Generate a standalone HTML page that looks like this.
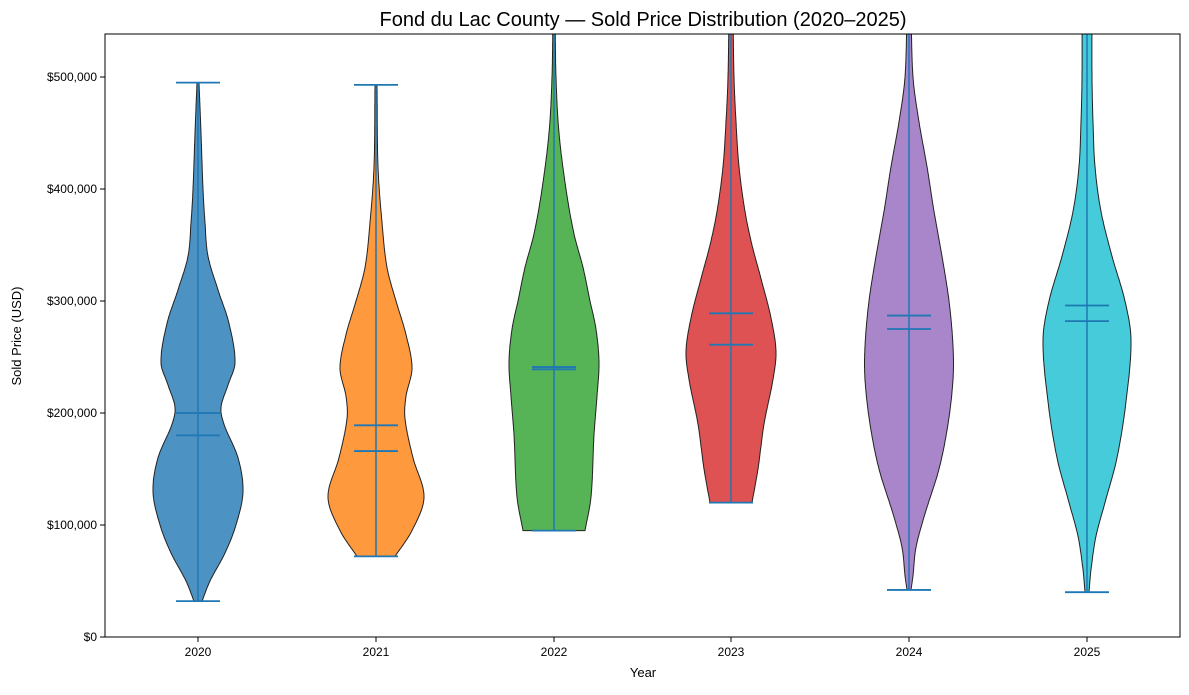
<!DOCTYPE html>
<html><head><meta charset="utf-8"><style>
body{margin:0;background:#fff;}
text{font-family:"Liberation Sans",sans-serif;fill:#000;}
</style></head><body>
<svg id="s" width="1189" height="690" xmlns="http://www.w3.org/2000/svg">
<defs><clipPath id="cp"><rect x="105" y="34" width="1075" height="603"/></clipPath></defs>
<rect width="1189" height="690" fill="#fff"/>
<text x="643" y="26" font-size="20" text-anchor="middle">Fond du Lac County — Sold Price Distribution (2020–2025)</text>
<g id="v" clip-path="url(#cp)"></g>
<rect x="105" y="34" width="1075" height="603" fill="none" stroke="#000" stroke-width="1"/>
<g font-size="12" text-anchor="end">
<line x1="100" x2="105" y1="637" y2="637" stroke="#000"/><text x="97" y="641">$0</text>
<line x1="100" x2="105" y1="525" y2="525" stroke="#000"/><text x="97" y="529">$100,000</text>
<line x1="100" x2="105" y1="413" y2="413" stroke="#000"/><text x="97" y="417">$200,000</text>
<line x1="100" x2="105" y1="301" y2="301" stroke="#000"/><text x="97" y="305">$300,000</text>
<line x1="100" x2="105" y1="189" y2="189" stroke="#000"/><text x="97" y="193">$400,000</text>
<line x1="100" x2="105" y1="77" y2="77" stroke="#000"/><text x="97" y="81">$500,000</text>
</g>
<g font-size="12" text-anchor="middle">
<line x1="198" x2="198" y1="637" y2="642" stroke="#000"/><text x="198" y="656">2020</text>
<line x1="376" x2="376" y1="637" y2="642" stroke="#000"/><text x="376" y="656">2021</text>
<line x1="554" x2="554" y1="637" y2="642" stroke="#000"/><text x="554" y="656">2022</text>
<line x1="731" x2="731" y1="637" y2="642" stroke="#000"/><text x="731" y="656">2023</text>
<line x1="909" x2="909" y1="637" y2="642" stroke="#000"/><text x="909" y="656">2024</text>
<line x1="1087" x2="1087" y1="637" y2="642" stroke="#000"/><text x="1087" y="656">2025</text>
<text x="643" y="677" font-size="13">Year</text>
<text transform="translate(21,336) rotate(-90)" font-size="13">Sold Price (USD)</text>
</g>
</svg>
<script>
const Y=p=>637-p*1.12;
const V=[
{x:198,c:"#1f77b4",min:32,max:495,l:[200,180],p:[[32,4],[50,12],[75,27],[100,38],[130,45],[160,40],[190,26],[205,23],[225,30],[245,37],[280,31],[310,20],[340,10],[370,7],[400,5],[450,3],[495,1]]},
{x:376,c:"#ff7f0e",min:72,max:493,l:[189,166],p:[[72,19],[95,36],[125,48],[160,37],[195,29],[215,30],[240,36],[270,30],[300,20],[330,11],[370,6],[420,2],[493,1]]},
{x:554,c:"#2ca02c",min:95,max:560,l:[241,239],p:[[95,31],[125,37],[180,40],[215,43],[245,45],[275,42],[300,36],[330,29],[360,20],[400,12],[450,5],[500,2],[560,1]]},
{x:731,c:"#d62728",min:120,max:560,l:[289,261],p:[[120,21],[150,27],[190,33],[230,42],[255,45],[285,40],[320,30],[350,21],[380,14],[420,8],[460,5],[500,3],[560,2]]},
{x:909,c:"#9467bd",min:42,max:560,l:[287,275],p:[[42,2],[55,4],[80,7],[110,16],[150,30],[190,39],[230,44],[260,44],[300,40],[340,33],[380,25],[420,18],[460,10],[500,4],[560,2]]},
{x:1087,c:"#17becf",min:40,max:560,l:[296,282],p:[[40,2],[60,4],[90,9],[120,18],[160,30],[210,39],[265,44],[300,38],[340,25],[380,14],[420,8],[460,6],[500,5],[560,5]]}];
function cr(p,v){let i=0;while(i<p.length-2&&v>p[i+1][0])i++;
const P0=p[Math.max(i-1,0)],P1=p[i],P2=p[i+1],P3=p[Math.min(i+2,p.length-1)];
const t=Math.max(0,Math.min(1,(v-P1[0])/(P2[0]-P1[0])));
const h1=P2[0]-P1[0];
const m1=(P2[1]-P0[1])/(P2[0]-P0[0]||1)*h1, m2=(P3[1]-P1[1])/(P3[0]-P1[0]||1)*h1;
const t2=t*t,t3=t2*t;
return Math.max(0.5,(2*t3-3*t2+1)*P1[1]+(t3-2*t2+t)*m1+(-2*t3+3*t2)*P2[1]+(t3-t2)*m2);}
let h="";
for(const v of V){const a=v.p[0][0],b=v.p[v.p.length-1][0];let R=[],L=[];
for(let q=a;q<=b;q+=1.5){const w=cr(v.p,q);R.push((v.x+w).toFixed(1)+","+Y(q).toFixed(1));L.unshift((v.x-w).toFixed(1)+","+Y(q).toFixed(1));}
h+=`<polygon points="${R.join(" ")} ${L.join(" ")}" fill="${v.c}" fill-opacity="0.8" stroke="#222" stroke-width="1"/>`;
const top=Math.max(Y(v.max),34);
h+=`<line x1="${v.x}" x2="${v.x}" y1="${Y(v.min)}" y2="${top}" stroke="#1f77b4" stroke-width="1.5"/>`;
h+=`<line x1="${v.x-22}" x2="${v.x+22}" y1="${Y(v.min)}" y2="${Y(v.min)}" stroke="#1f77b4" stroke-width="1.8"/>`;
if(v.max<536)h+=`<line x1="${v.x-22}" x2="${v.x+22}" y1="${Y(v.max)}" y2="${Y(v.max)}" stroke="#1f77b4" stroke-width="1.8"/>`;
for(const l of v.l)h+=`<line x1="${v.x-22}" x2="${v.x+22}" y1="${Y(l)}" y2="${Y(l)}" stroke="#1f77b4" stroke-width="1.8"/>`;}
document.getElementById("v").innerHTML=h;
</script>
</body></html>
